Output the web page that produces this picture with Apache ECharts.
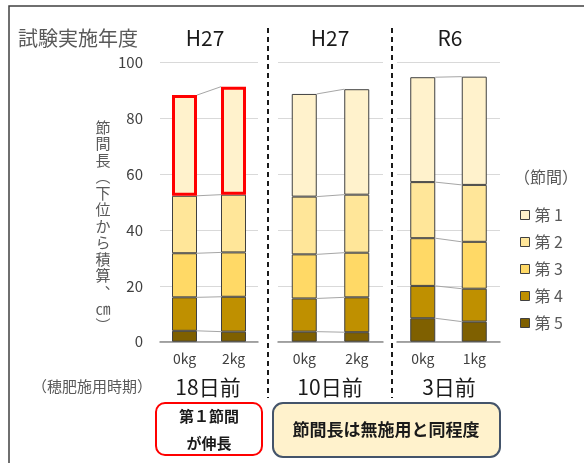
<!DOCTYPE html>
<html><head><meta charset="utf-8">
<script src="https://cdn.jsdelivr.net/npm/echarts@6/dist/echarts.min.js"></script>
<style>html,body{margin:0;padding:0;background:#fff}#c{width:584px;height:463px}</style>
</head><body><div id="c"></div>
<script>
// ---- data ----
const yearLabels = ['H27', 'H27', 'R6'];
const timingLabels = ['18日前', '10日前', '3日前'];
const categories = [['0kg', '2kg'], ['0kg', '2kg'], ['0kg', '1kg']];
const segmentNames = ['第 1', '第 2', '第 3', '第 4', '第 5'];
// values per panel: [bar 1, bar 2]
const seg5 = [[3.9, 3.6], [3.6, 3.4], [8.4, 7.2]];
const seg4 = [[12.0, 12.5], [11.9, 12.5], [11.6, 11.8]];
const seg3 = [[15.8, 15.9], [15.8, 16.0], [17.1, 16.8]];
const seg2 = [[20.6, 20.7], [20.7, 20.8], [20.1, 20.4]];
const seg1 = [[36.1, 38.7], [36.8, 37.8], [37.6, 38.8]];
const yTicks = [0, 20, 40, 60, 80, 100];

// ---- style ----
const FONT = '"Noto Sans CJK JP", "Noto Sans", sans-serif';
const colors = {'第 1': '#FFF2CC', '第 2': '#FFE699', '第 3': '#FFD966', '第 4': '#BF9000', '第 5': '#7F6000'};
const BW = 25;
const grids = [
  {left: 160, width: 98, top: 62.7, height: 279},
  {left: 278, width: 105, top: 62.7, height: 279},
  {left: 397, width: 103, top: 62.7, height: 279}
];

const segOrder = [['第 5', seg5], ['第 4', seg4], ['第 3', seg3], ['第 2', seg2], ['第 1', seg1]];

const xAxis = [], yAxis = [], series = [];
grids.forEach((g, p) => {
  xAxis.push({
    type: 'category', gridIndex: p, data: categories[p],
    axisLine: {lineStyle: {color: '#8c8c8c', width: 1.5}},
    axisTick: {show: false},
    axisLabel: {fontFamily: FONT, fontSize: 14, color: '#404040', margin: 10}
  });
  yAxis.push({
    type: 'value', gridIndex: p, min: yTicks[0], max: yTicks[yTicks.length - 1], interval: 20,
    axisLine: {show: false}, axisTick: {show: false},
    splitLine: {lineStyle: {color: '#d9d9d9', width: 1}},
    axisLabel: {show: p === 0, fontFamily: FONT, fontSize: 15, color: '#404040', margin: 17}
  });
  segOrder.forEach(([name, arr]) => {
    const highlight = (p === 0 && name === '第 1');
    series.push({
      type: 'bar', name: name, xAxisIndex: p, yAxisIndex: p, stack: 's' + p,
      barWidth: BW, data: arr[p],
      itemStyle: {color: colors[name], borderColor: highlight ? '#ff0000' : '#404040', borderWidth: highlight ? 3 : 1},
      emphasis: {disabled: true}, z: highlight ? 4 : 2
    });
  });
  // connector lines between segment boundaries
  const connData = [];
  let ca = 0, cb = 0;
  segOrder.forEach(([name, arr]) => {
    ca += arr[p][0]; cb += arr[p][1];
    connData.push([0, ca, cb]);
  });
  series.push({
    type: 'custom', xAxisIndex: p, yAxisIndex: p, silent: true, z: 1,
    encode: {x: 0, y: [1, 2]},
    data: connData,
    renderItem: function (params, api) {
      const a = api.coord([0, api.value(1)]);
      const b = api.coord([1, api.value(2)]);
      return {type: 'line', shape: {x1: a[0] + BW / 2, y1: a[1], x2: b[0] - BW / 2, y2: b[1]},
        style: {stroke: '#a6a6a6', lineWidth: 1}};
    }
  });
});

const graphic = [
  {type: 'rect', shape: {x: 9, y: 6, width: 600, height: 480}, style: {fill: 'none', stroke: '#404040', lineWidth: 1.5}, silent: true},
  {type: 'text', left: 18, top: 28, style: {text: '試験実施年度', font: '20px ' + FONT, fill: '#595959'}},
  {type: 'text', x: 205, y: 38, style: {text: yearLabels[0], font: '21px ' + FONT, fill: '#1a1a1a', align: 'center', verticalAlign: 'middle'}},
  {type: 'text', x: 330, y: 38, style: {text: yearLabels[1], font: '21px ' + FONT, fill: '#1a1a1a', align: 'center', verticalAlign: 'middle'}},
  {type: 'text', x: 450, y: 38, style: {text: yearLabels[2], font: '21px ' + FONT, fill: '#1a1a1a', align: 'center', verticalAlign: 'middle'}},
  {type: 'line', shape: {x1: 268, y1: 28, x2: 268, y2: 398}, style: {stroke: '#1a1a1a', lineWidth: 2, lineDash: [5, 4]}},
  {type: 'line', shape: {x1: 392, y1: 28, x2: 392, y2: 398}, style: {stroke: '#1a1a1a', lineWidth: 2, lineDash: [5, 4]}},
  {type: 'text', x: 103, y: 226, style: {text: '節\n間\n長\n︵\n下\n位\nか\nら\n積\n算\n︑\n㎝\n︶', font: '15px ' + FONT, lineHeight: 16.5, fill: '#595959', align: 'center', verticalAlign: 'middle'}},
  {type: 'text', x: 92, y: 386, style: {text: '（穂肥施用時期）', font: '15px ' + FONT, fill: '#595959', align: 'center', verticalAlign: 'middle'}},
  {type: 'text', x: 208, y: 387, style: {text: timingLabels[0], font: '21px ' + FONT, fill: '#1a1a1a', align: 'center', verticalAlign: 'middle'}},
  {type: 'text', x: 330, y: 387, style: {text: timingLabels[1], font: '21px ' + FONT, fill: '#1a1a1a', align: 'center', verticalAlign: 'middle'}},
  {type: 'text', x: 449, y: 387, style: {text: timingLabels[2], font: '21px ' + FONT, fill: '#1a1a1a', align: 'center', verticalAlign: 'middle'}},
  {type: 'rect', shape: {x: 156, y: 403, width: 106, height: 52, r: 9}, style: {fill: '#fff', stroke: '#ff0000', lineWidth: 2}},
  {type: 'text', x: 209, y: 430, style: {text: '第１節間\nが伸長', font: 'bold 15px ' + FONT, lineHeight: 27, fill: '#1a1a1a', align: 'center', verticalAlign: 'middle'}},
  {type: 'rect', shape: {x: 273, y: 403, width: 227, height: 54, r: 10}, style: {fill: '#FFF2CC', stroke: '#44546A', lineWidth: 2}},
  {type: 'text', x: 386, y: 430, style: {text: '節間長は無施用と同程度', font: 'bold 17px ' + FONT, fill: '#1a1a1a', align: 'center', verticalAlign: 'middle'}},
  {type: 'text', x: 546, y: 177, style: {text: '（節間）', font: '16px ' + FONT, fill: '#595959', align: 'center', verticalAlign: 'middle'}}
];

const chart = echarts.init(document.getElementById('c'), null, {renderer: 'canvas'});
chart.setOption({
  backgroundColor: '#ffffff',
  animation: false,
  grid: grids,
  xAxis: xAxis,
  yAxis: yAxis,
  legend: {
    orient: 'vertical', left: 515, top: 201,
    icon: 'rect', itemWidth: 9, itemHeight: 9, itemGap: 9,
    textStyle: {fontFamily: FONT, fontSize: 16, color: '#595959', lineHeight: 18},
    data: segmentNames.map(n => ({name: n, itemStyle: {color: colors[n], borderColor: '#404040', borderWidth: 1}})),
    selectedMode: false
  },
  series: series,
  graphic: graphic
});
</script>
</body></html>
